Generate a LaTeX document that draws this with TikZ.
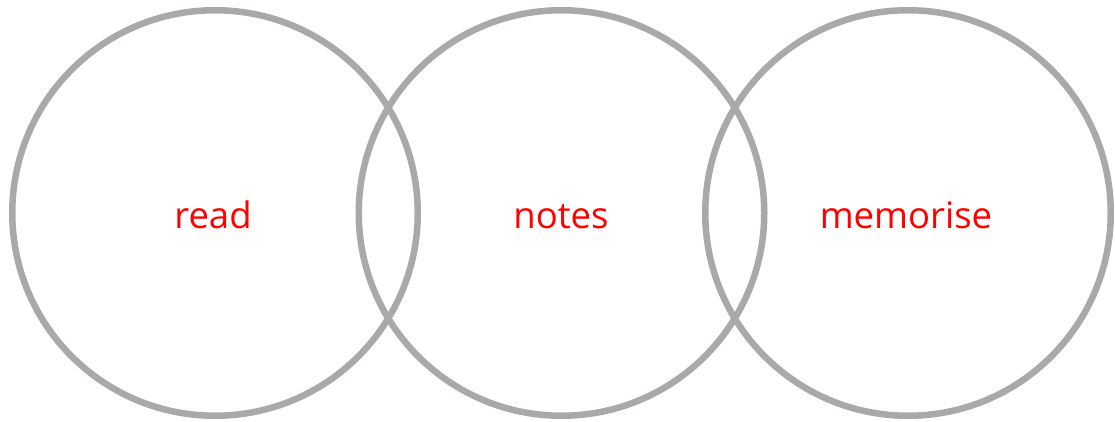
\documentclass[tikz,border=0pt]{standalone}
\usepackage{fontspec}
\setmainfont{Open Sans}
\definecolor{ringgray}{HTML}{ABA8A9}
\definecolor{labelred}{HTML}{FF0000}
\begin{document}
\begin{tikzpicture}[x=1pt,y=1pt,
  ring/.style={draw=ringgray,line width=6.5pt,circle,minimum size=405.5pt,inner sep=0pt},
  lbl/.style={text=labelred,font=\fontsize{36.5}{40}\selectfont,anchor=base,inner sep=0pt}]
\useasboundingbox (0,0) rectangle (1115,422);
\node[ring] (c1) at (215,209) {};
\node[ring] (c2) at (561.5,209) {};
\node[ring] (c3) at (908,209) {};
\node[lbl] (t1) at (213,193) {read};
\node[lbl] (t2) at (561,193) {notes};
\node[lbl] (t3) at (906,193) {memorise};
\end{tikzpicture}
\end{document}
